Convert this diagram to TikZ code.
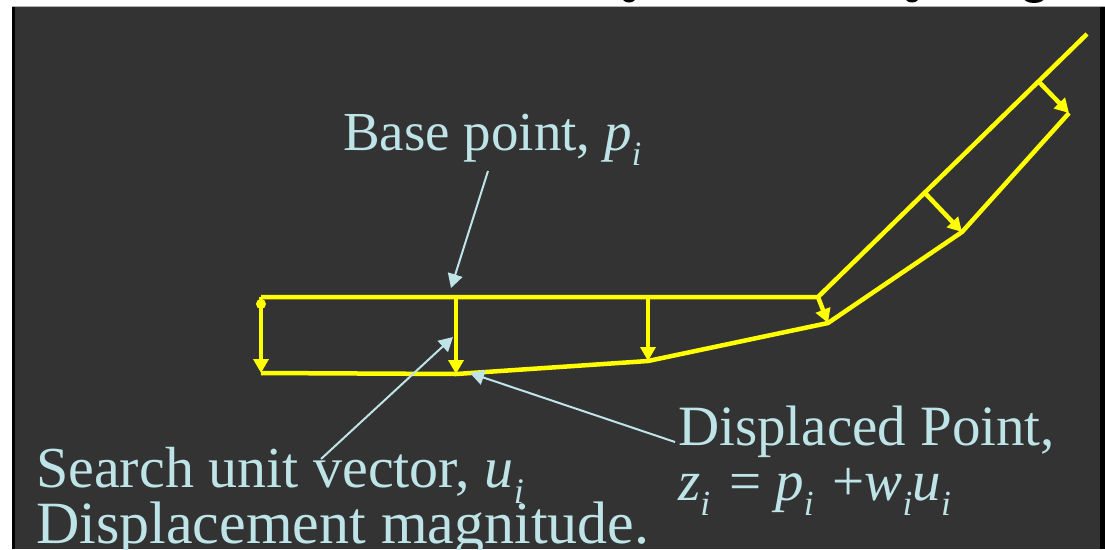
\documentclass[tikz,border=0pt]{standalone}
\usepackage{fontspec}
\setmainfont{Liberation Serif}
\usetikzlibrary{arrows.meta}
\definecolor{bgdark}{HTML}{333333}
\definecolor{lblue}{RGB}{190,228,232}
\definecolor{ylw}{HTML}{FFFF00}
\newcommand\mysub[1]{\raisebox{-0.28em}{\scalebox{0.62}{\itshape #1}}}
\tikzset{
  curve/.style={draw=ylw, line width=4.5pt, line join=miter},
  disp/.style={draw=ylw, line width=4.5pt, -{Triangle[width=15pt,length=14pt]}},
  lbl/.style={text=lblue, inner sep=0pt, anchor=base west},
  callout/.style={draw=lblue, line width=2pt, -{Triangle[width=15pt,length=14pt]}},
}
\begin{document}
\begin{tikzpicture}[x=1pt,y=-1pt]
\useasboundingbox (0,0) rectangle (1105,549);
\fill[white] (0,0) rectangle (1105,549);
\fill[bgdark] (12,7) rectangle (1105,549);
\fill[black] (12,7) rectangle (14.5,549);
\fill[black] (1100,7) rectangle (1105,549);
\draw[black!30, line width=1.2pt] (12,6.4) -- (1105,6.4);
\begin{scope}
  \clip (0,0) rectangle (1105,5.5);
  \fill[black] (629,-3) ellipse (7 and 5.5);
  \fill[black] (912,-3) ellipse (7 and 5.5);
  \fill[black] (1034,-3) ellipse (11 and 6);
\end{scope}
% base points
\coordinate (b0) at (261,297);
\coordinate (b1) at (456,297);
\coordinate (b2) at (648,297);
\coordinate (b3) at (818,297);
\coordinate (b4) at (925,193);
\coordinate (b5) at (1039,82);
\coordinate (bend) at (1087,34);
% displaced points
\coordinate (d0) at (261,373);
\coordinate (d1) at (456,374);
\coordinate (d2) at (648,361);
\coordinate (d3) at (828,323);
\coordinate (d4) at (962,232);
\coordinate (d5) at (1069,113);
\draw[curve] (b0) -- (b3) -- (bend);
\draw[curve] (d0) -- (d1) -- (d2) -- (d3) -- (d4) -- (d5);
\draw[disp] (b0) -- (d0);
\fill[ylw] (261,304) circle (5);
\draw[disp] (b1) -- (d1);
\draw[disp] (b2) -- (d2);
\draw[disp] (b3) -- (d3);
\draw[disp] (b4) -- (d4);
\draw[disp] (b5) -- (d5);
% labels
\node[lbl, font=\fontsize{55}{55}\selectfont] (basetxt) at (343,150) {Base point, \textit{p}\mysub{i}};
\node[lbl, font=\fontsize{58}{58}\selectfont] (searchtxt) at (36,487) {Search unit vector, \textit{u}\mysub{i}};
\node[lbl, font=\fontsize{60}{60}\selectfont] (magtxt) at (36,543) {Displacement magnitude.};
\node[lbl, font=\fontsize{57}{57}\selectfont] (dpttxt) at (678,445) {Displaced Point,};
\node[lbl, font=\fontsize{57}{57}\selectfont] (zeqtxt) at (678,500) {\textit{z}\mysub{i}\hspace{0.08em} = \textit{p}\mysub{i}\hspace{0.08em} +\textit{w}\mysub{i}\textit{u}\mysub{i}};
% callouts
\coordinate (c1s) at (488,171);
\coordinate (c1e) at (451,288);
\coordinate (c2s) at (321,459);
\coordinate (c2e) at (453,337);
\coordinate (c3s) at (675,442);
\coordinate (c3e) at (470,373);
\draw[callout] (c1s) -- (c1e);
\draw[callout] (c2s) -- (c2e);
\draw[callout] (c3s) -- (c3e);
\end{tikzpicture}
\end{document}
